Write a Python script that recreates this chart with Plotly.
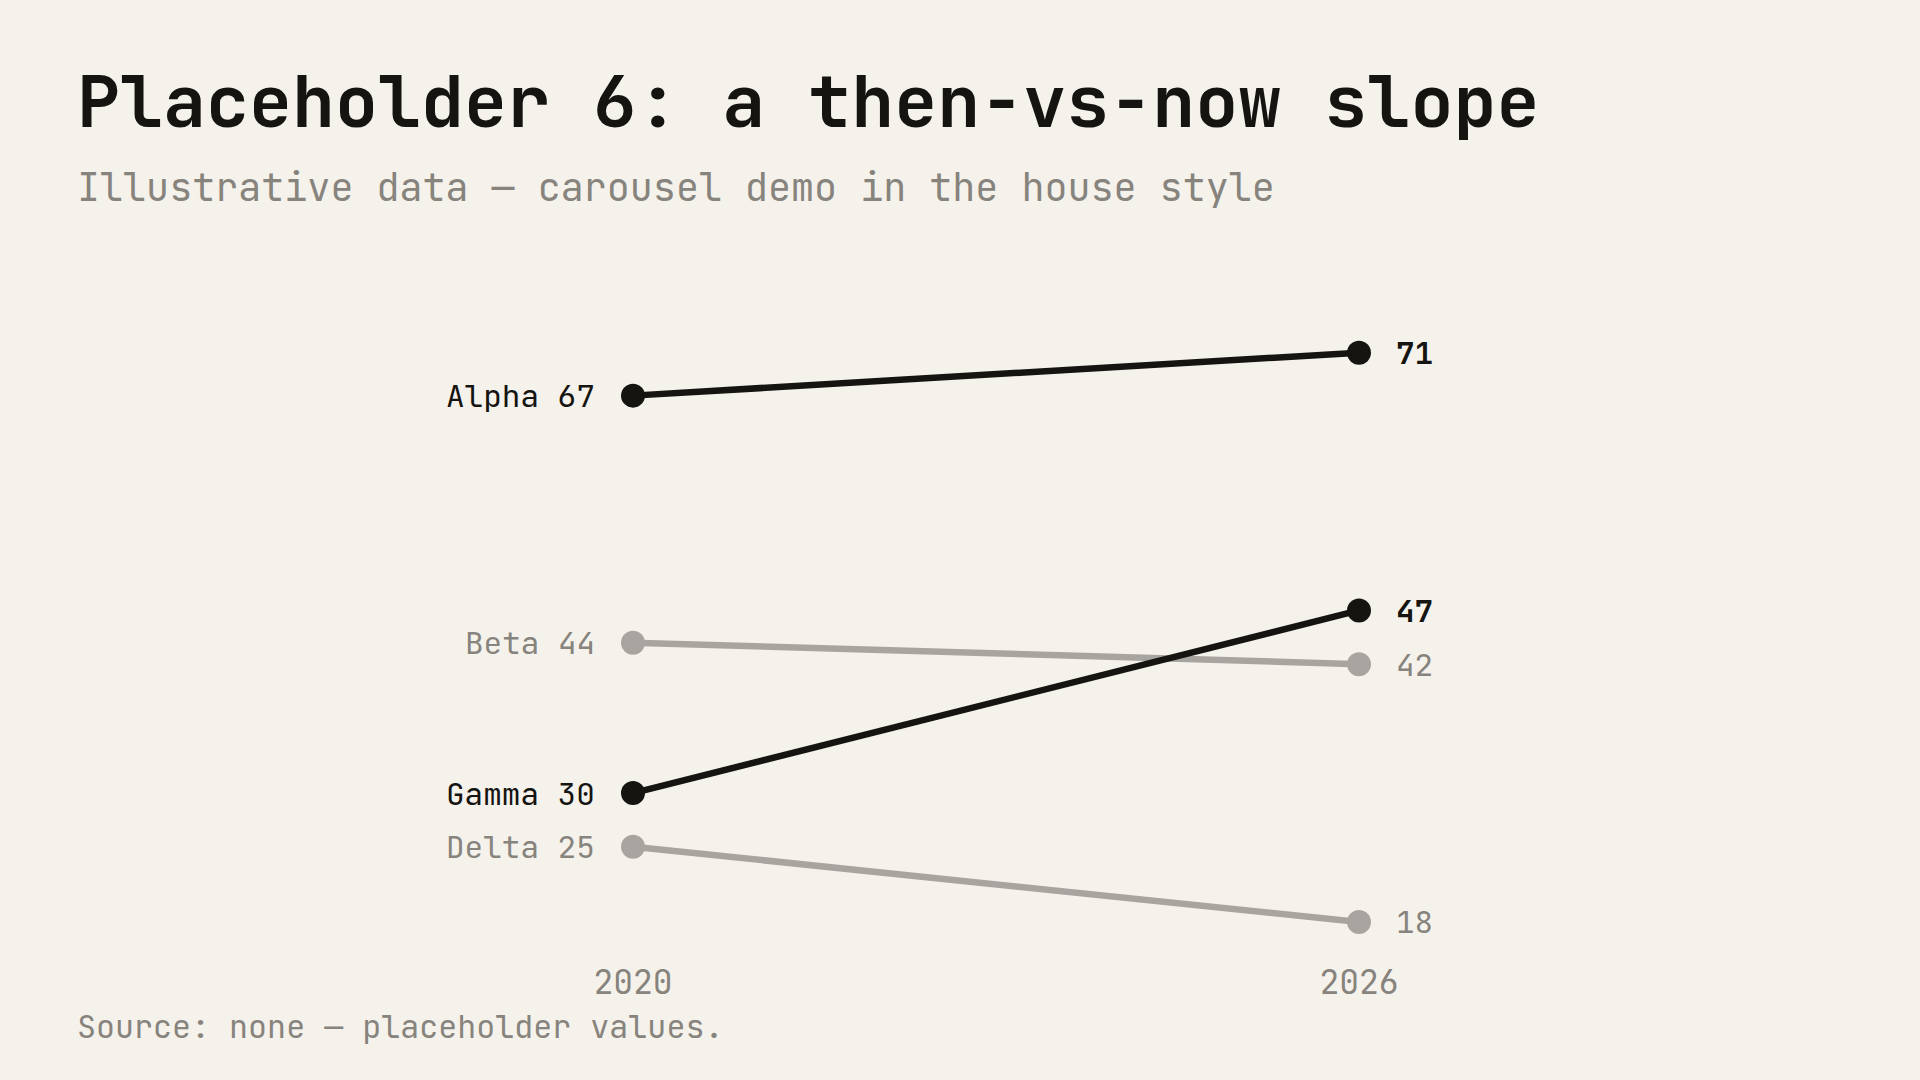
import plotly.graph_objects as go

# ---- data ----
years = [2020, 2026]
series_names = ["Alpha", "Beta", "Gamma", "Delta"]
values_2020 = [67, 44, 30, 25]
values_2026 = [71, 42, 47, 18]
highlighted = [True, False, True, False]

title_text = "Placeholder 6: a then-vs-now slope"
subtitle_text = "Illustrative data — carousel demo in the house style"
source_text = "Source: none — placeholder values."

# ---- style ----
W, H = 1920, 1080
BG = "#f5f2ec"
DARK = "#151411"
GREY_LINE = "#a8a5a0"
GREY_TEXT = "#87837d"
FONT = "JetBrains Mono, DejaVu Sans Mono, Liberation Mono, monospace"

def px_x(p):
    return p / W

def px_y(p):
    return 1 - p / H

fig = go.Figure()

# draw grey first, dark on top
order = [i for i in range(len(series_names)) if not highlighted[i]] + \
        [i for i in range(len(series_names)) if highlighted[i]]

for i in order:
    col = DARK if highlighted[i] else GREY_LINE
    fig.add_trace(go.Scatter(
        x=years, y=[values_2020[i], values_2026[i]],
        mode="lines+markers",
        line=dict(color=col, width=6.5),
        marker=dict(color=col, size=24),
        hoverinfo="skip", showlegend=False,
    ))

for i, name in enumerate(series_names):
    hl = highlighted[i]
    tcol = DARK if hl else GREY_TEXT
    fig.add_annotation(
        x=years[0], y=values_2020[i], xref="x", yref="y",
        text=f"{name} {values_2020[i]}", showarrow=False,
        xanchor="right", yanchor="middle", xshift=-36,
        font=dict(family=FONT, size=31, color=tcol),
    )
    rtext = f"<b>{values_2026[i]}</b>" if hl else f"{values_2026[i]}"
    fig.add_annotation(
        x=years[1], y=values_2026[i], xref="x", yref="y",
        text=rtext, showarrow=False,
        xanchor="left", yanchor="middle", xshift=35,
        font=dict(family=FONT, size=31, color=tcol),
    )

# title / subtitle / source
fig.add_annotation(
    x=px_x(75), y=px_y(101), xref="paper", yref="paper",
    text=f"<b>{title_text}</b>", showarrow=False,
    xanchor="left", yanchor="middle",
    font=dict(family=FONT, size=71.7, color=DARK),
)
fig.add_annotation(
    x=px_x(75), y=px_y(188), xref="paper", yref="paper",
    text=subtitle_text, showarrow=False,
    xanchor="left", yanchor="middle",
    font=dict(family=FONT, size=38.4, color=GREY_TEXT),
)
fig.add_annotation(
    x=px_x(75), y=px_y(1027), xref="paper", yref="paper",
    text=source_text, showarrow=False,
    xanchor="left", yanchor="middle",
    font=dict(family=FONT, size=31.7, color=GREY_TEXT),
)

fig.update_layout(
    width=W, height=H,
    paper_bgcolor=BG, plot_bgcolor=BG,
    margin=dict(l=0, r=0, t=0, b=0),
    xaxis=dict(
        domain=[px_x(100), px_x(1820)],
        range=[2015.595, 2029.81],
        tickvals=years, ticktext=[str(y) for y in years],
        showgrid=False, zeroline=False, showline=False, ticks="",
        tickfont=dict(family=FONT, size=33, color=GREY_TEXT),
    ),
    yaxis=dict(
        domain=[px_y(960), px_y(309.7)],
        range=[14.46, 75],
        showgrid=False, zeroline=False, showline=False,
        showticklabels=False, ticks="",
    ),
)

fig.write_html(
    "out.html",
    config={"displayModeBar": False},
    post_script="document.body.style.margin='0';document.body.style.background='" + BG + "';",
)
